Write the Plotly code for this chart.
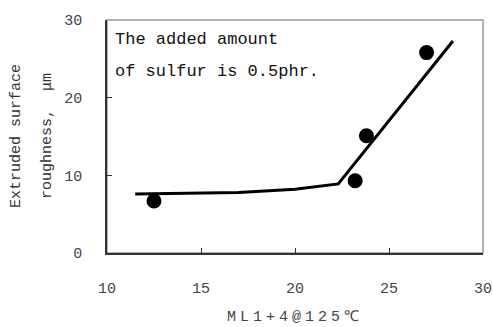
import plotly.graph_objects as go

# measured points
point_x = [12.5, 23.2, 23.8, 27.0]
point_y = [6.7, 9.3, 15.1, 25.8]

# fitted trend line
line_x = [11.5, 14.0, 17.0, 20.0, 22.3, 28.4]
line_y = [7.6, 7.7, 7.8, 8.2, 8.9, 27.3]

x_ticks = [10, 15, 20, 25, 30]
y_ticks = [0, 10, 20, 30]

mono = "Liberation Mono, DejaVu Sans Mono, monospace"

L, R, T, B = 107, 10, 20, 74
W, H = 493, 327
PW, PH = W - L - R, H - T - B

def px(x):
    return (x - L) / PW

def py(y):
    return (H - B - y) / PH

fig = go.Figure()
fig.add_trace(go.Scatter(x=line_x, y=line_y, mode="lines",
                         line=dict(color="black", width=3), showlegend=False))
fig.add_trace(go.Scatter(x=point_x, y=point_y, mode="markers",
                         marker=dict(color="black", size=15), showlegend=False))

fig.add_shape(type="rect", xref="paper", yref="paper", x0=0, x1=1, y0=0, y1=1,
              line=dict(color="#999999", width=1.5), layer="below")

txt_font = dict(family=mono, size=17, color="#111")
fig.add_annotation(x=px(113), y=py(40), xref="paper", yref="paper",
                   text="The added amount", showarrow=False,
                   xanchor="left", yanchor="middle", font=txt_font)
fig.add_annotation(x=px(113), y=py(71), xref="paper", yref="paper",
                   text="of sulfur is 0.5phr.", showarrow=False,
                   xanchor="left", yanchor="middle", font=txt_font)

ytitle_font = dict(family=mono, size=15, color="#333")
fig.add_annotation(x=px(16), y=py(136), xref="paper", yref="paper",
                   text="Extruded surface", textangle=-90, showarrow=False,
                   xanchor="center", yanchor="middle", font=ytitle_font)
fig.add_annotation(x=px(47), y=py(136), xref="paper", yref="paper",
                   text="roughness,  μm", textangle=-90, showarrow=False,
                   xanchor="center", yanchor="middle", font=ytitle_font)

fig.add_annotation(x=px(295), y=py(317), xref="paper", yref="paper",
                   text="<span style='letter-spacing:4px'>ML1+4@125℃</span>",
                   showarrow=False, xanchor="center", yanchor="middle",
                   font=dict(family=mono, size=15, color="#444"))

tick_font = dict(family=mono, size=15, color="#444")
fig.update_layout(
    width=W, height=H,
    margin=dict(l=L, r=R, t=T, b=B),
    paper_bgcolor="white", plot_bgcolor="white",
    font=dict(family=mono, size=15, color="#444"),
    xaxis=dict(range=[10, 30], tickvals=x_ticks, showgrid=False, zeroline=False,
               showline=True, linecolor="#333", linewidth=1.5,
               ticks="inside", ticklen=5, tickcolor="#333",
               ticklabelstandoff=20, tickfont=tick_font, automargin=False),
    yaxis=dict(range=[0, 30], tickvals=y_ticks, showgrid=False, zeroline=False,
               showline=True, linecolor="#333", linewidth=1.5,
               ticks="inside", ticklen=5, tickcolor="#333",
               ticklabelstandoff=20, tickfont=tick_font, automargin=False),
)

fig.write_html("out.html", config={"displayModeBar": False},
               post_script="document.body.style.margin='0';document.body.style.overflow='hidden';")
